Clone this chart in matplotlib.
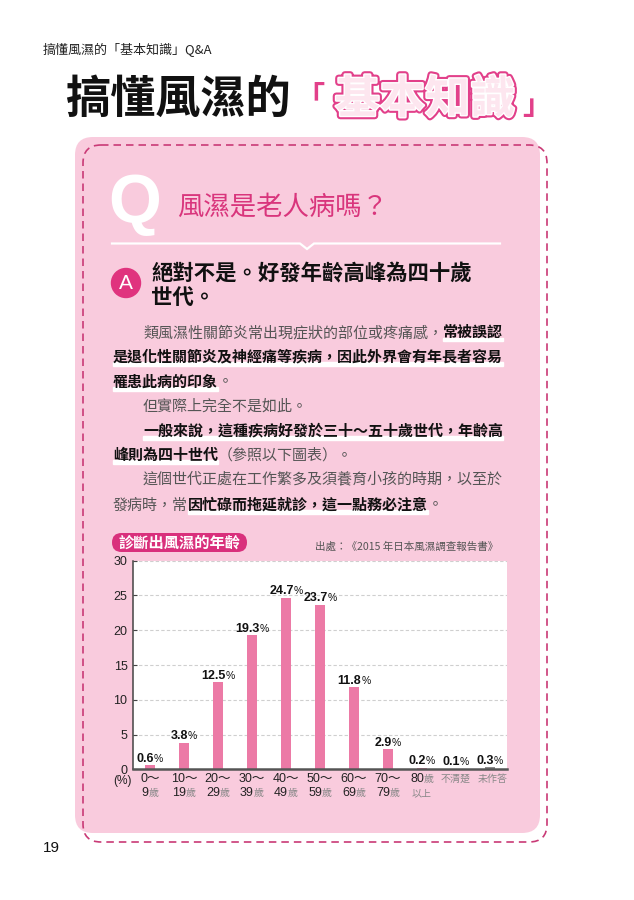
import matplotlib
matplotlib.use('Agg')
import matplotlib.pyplot as plt
from matplotlib.patches import FancyBboxPatch, Circle, Rectangle
import matplotlib.patheffects as pe

# ---------------- data ----------------
categories = ["0～\n9歲", "10～\n19歲", "20～\n29歲", "30～\n39歲", "40～\n49歲",
              "50～\n59歲", "60～\n69歲", "70～\n79歲", "80歲\n以上", "不清楚", "未作答"]
values = [0.6, 3.8, 12.5, 19.3, 24.7, 23.7, 11.8, 2.9, 0.2, 0.1, 0.3]
bar_colors = ["#EC7AA6"] * 9 + ["#8a8a8a", "#8a8a8a"]
yticks = [0, 5, 10, 15, 20, 25, 30]

header_text = "搞懂風濕的「基本知識」Q&A"
title_black = "搞懂風濕的"
title_pink = "基本知識"
question = "風濕是老人病嗎？"
answer_lines = ["絕對不是。好發年齡高峰為四十歲", "世代。"]
chart_title = "診斷出風濕的年齡"
source_text = "出處：《2015 年日本風濕調查報告書》"
page_no = "19"
# (indent, [(text, bold)])
body = [
    (True, [("類風濕性關節炎常出現症狀的部位或疼痛感，", False), ("常被誤認", True)]),
    (False, [("是退化性關節炎及神經痛等疾病，因此外界會有年長者容易", True)]),
    (False, [("罹患此病的印象", True), ("。", False)]),
    (True, [("但實際上完全不是如此。", False)]),
    (True, [("一般來說，這種疾病好發於三十～五十歲世代，年齡高", True)]),
    (False, [("峰則為四十世代", True), ("（參照以下圖表）。", False)]),
    (True, [("這個世代正處在工作繁多及須養育小孩的時期，以至於", False)]),
    (False, [("發病時，常", False), ("因忙碌而拖延就診，這一點務必注意", True), ("。", False)]),
]
body_y = [331.7, 356, 381, 405, 430, 454, 478.3, 504]

# ---------------- styles ----------------
CJK = ['Noto Sans CJK TC', 'DejaVu Sans']
LAT = ['Liberation Sans', 'Noto Sans CJK TC', 'DejaVu Sans']
PINK_BG = "#F9CBDD"
MAGENTA = "#D9357C"
DASH = "#C93A76"

W, H = 634, 900
fig = plt.figure(figsize=(W / 100, H / 100), dpi=100)
fig.patch.set_facecolor('white')

bg = fig.add_axes([0, 0, 1, 1], zorder=0)
bg.set_xlim(0, W); bg.set_ylim(H, 0); bg.axis('off')

ax = fig.add_axes([133 / W, (H - 769.3) / H, (507 - 133) / W, (769.3 - 560.7) / H], zorder=2)

ov = fig.add_axes([0, 0, 1, 1], zorder=5)
ov.set_xlim(0, W); ov.set_ylim(H, 0); ov.axis('off')

renderer = fig.canvas.get_renderer()


def seq(axx, x, y, parts, ha='left', va='baseline'):
    texts, widths = [], []
    for s, kw in parts:
        kw = dict(kw)
        v = kw.pop('va', va)
        t = axx.text(0, y, s, ha='left', va=v, **kw)
        w = t.get_window_extent(renderer).width
        texts.append(t); widths.append(w)
    total = sum(widths)
    x0 = x - total / 2 if ha == 'center' else (x - total if ha == 'right' else x)
    spans = []
    for t, w in zip(texts, widths):
        t.set_x(x0)
        spans.append((x0, x0 + w))
        x0 += w
    return spans, texts


# ---------------- page background ----------------
bg.add_patch(FancyBboxPatch((75, 137), 465, 696, boxstyle="round,pad=0,rounding_size=18",
                            fc=PINK_BG, ec='none', zorder=1))
bg.add_patch(FancyBboxPatch((83, 145), 464, 697, boxstyle="round,pad=0,rounding_size=18",
                            fc='none', ec=DASH, lw=1.2, ls=(0, (4.5, 3)), zorder=2))

# header
ov.text(43, 50, header_text, fontsize=9.4, family=CJK, color='#222', va='center', ha='left')

# big title
ov.text(65, 100, title_black, fontsize=32.5, family=CJK, weight='heavy', color='#111',
        ha='left', va='center')
ov.text(310, 97, "「", fontsize=21, family=CJK, weight='heavy', color="#E2408A",
        ha='center', va='center')
tp = ov.text(425, 100, title_pink, fontsize=32.5, family=CJK, weight='heavy', color="#FDE6EF",
             ha='center', va='center')
tp.set_path_effects([pe.Stroke(linewidth=5, foreground="#E2408A"),
                     pe.Stroke(linewidth=2.0, foreground="white"), pe.Normal()])
ov.text(537, 105, "」", fontsize=21, family=CJK, weight='heavy', color="#E2408A",
        ha='center', va='center')

# Q block
ov.text(135, 204, "Q", fontsize=49, family=LAT, weight='bold', color='white', ha='center', va='center')
ov.text(177, 207, question, fontsize=19, family=CJK, color=MAGENTA, ha='left', va='center')
ov.plot([112, 300, 307, 314, 500], [243.5, 243.5, 249, 243.5, 243.5], color='white', lw=1.6,
        solid_joinstyle='miter')

# A block
ov.add_patch(Circle((126, 283), 14.5, color="#E0337E", zorder=2))
ov.text(126, 283.5, "A", fontsize=15, family=LAT, color='white', ha='center', va='center')
for i, ln in enumerate(answer_lines):
    ov.text(151, 274 + i * 23, ln, fontsize=15.4, family=CJK, weight='bold', color='#111',
            ha='left', va='center')

# body
for (indent, parts), yc in zip(body, body_y):
    x0 = 113 + (30 if indent else 0)
    base = yc + 5.5
    p = [(s, dict(fontsize=10.8, family=CJK, weight='bold' if b else 'normal',
                  color='#111' if b else '#555', zorder=3)) for s, b in parts]
    sp, _ = seq(ov, x0, base, p)
    for (s, b), (a0, a1) in zip(parts, sp):
        if b:
            ov.add_patch(Rectangle((a0, base + 0.5), a1 - a0, 3.5, color='white', zorder=1))

# chart title pill & source
ov.add_patch(FancyBboxPatch((112, 533), 135, 19, boxstyle="round,pad=0,rounding_size=9.5",
                            fc="#D9307C", ec='none', zorder=1))
ov.text(179.5, 542.5, chart_title, fontsize=11, family=CJK, weight='bold', color='white',
        ha='center', va='center', zorder=3)
ov.text(498, 547, source_text, fontsize=7.6, family=CJK, color='#555', ha='right', va='center')

# ---------------- chart ----------------
x = list(range(len(values)))
ax.set_facecolor('white')
ax.bar(x, values, width=0.3, color=bar_colors, zorder=3)
ax.set_xlim(-0.5, 10.5)
ax.set_ylim(0, 30)
ax.set_yticks(yticks)
ax.set_yticklabels([str(v) for v in yticks], fontsize=9, family=LAT, color='#222')
ax.set_xticks(x)
ax.set_xticklabels([])
ax.tick_params(axis='x', length=0)
ax.tick_params(axis='y', direction='in', length=3, width=0.8, color='#444', pad=4)
for v in yticks[1:]:
    ax.axhline(v, color='#cfcfcf', lw=0.8, ls=(0, (3, 2)), zorder=1)
for s in ['top', 'right']:
    ax.spines[s].set_visible(False)
ax.spines['left'].set_color('#444'); ax.spines['left'].set_linewidth(1.1)
ax.spines['bottom'].set_color('#555'); ax.spines['bottom'].set_linewidth(1.8)
ax.spines['bottom'].set_zorder(4)

# value labels
for i, v in enumerate(values):
    px, py = ax.transData.transform((i, v))
    ytop = H - py
    seq(ov, px, ytop - 3.5, [(f"{v}", dict(fontsize=9, family=LAT, weight='bold', color='#111')),
                             ("%", dict(fontsize=7.5, family=LAT, color='#111'))], ha='center')


def runs(line):
    out = []
    for ch in line:
        cls = ch in "0123456789～"
        if out and out[-1][1] == cls:
            out[-1][0] += ch
        else:
            out.append([ch, cls])
    return out


for i, lab in enumerate(categories):
    px, _ = ax.transData.transform((i, 0))
    for j, line in enumerate(lab.split("\n")):
        parts = []
        for s, cls in runs(line):
            if cls:
                parts.append((s, dict(fontsize=9, family=LAT, color='#222')))
            else:
                parts.append((s, dict(fontsize=7.2, family=CJK, color='#888')))
        if i == len(categories) - 1:
            px2 = px + 3
        else:
            px2 = px
        seq(ov, px2, 782 + j * 14, parts, ha='center')

ov.text(122, 781, "(%)", fontsize=8.6, family=LAT, color='#222', ha='center', va='center')

# page number
ov.text(43, 848, page_no, fontsize=11, family=LAT, color='#111', ha='left', va='center')

fig.savefig("out.png", dpi=100, facecolor='white')
